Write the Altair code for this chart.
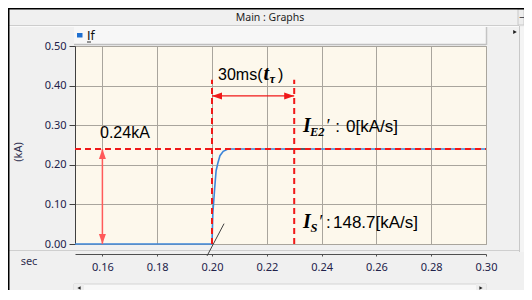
import altair as alt
import pandas as pd

# ---------------- data ----------------
time_s = [0.15, 0.2000, 0.2003, 0.2010, 0.2015, 0.2022, 0.2029, 0.2041, 0.2058, 0.30]
if_ka = [0.0, 0.0, 0.077, 0.143, 0.185, 0.206, 0.223, 0.234, 0.240, 0.240]

x_ticks = [0.16, 0.18, 0.20, 0.22, 0.24, 0.26, 0.28, 0.30]
y_ticks = [0.0, 0.1, 0.2, 0.3, 0.4, 0.5]
x_domain = [0.15, 0.30]
y_domain = [0.0, 0.5]

steady_ka = 0.24      # steady current level
t_fault = 0.20        # start of rise
t_tau = 0.23          # 30 ms later
marker_top = 0.415    # top of the vertical markers
span_arrow_v = 0.374  # level of the 30 ms arrow
level_arrow_t = 0.16  # position of the 0.24 kA arrow

tangent_t = [0.227, 0.236]
pointer_t = [0.1982, 0.2044]
pointer_v = [-0.030, 0.0514]

# annotation texts (anchor = left end, baseline; in data units)
sans_text = ["0.24kA", "30ms(", ")", ":", "0[kA/s]", ":", "148.7[kA/s]"]
sans_t = [0.15912, 0.20219, 0.22410, 0.24500, 0.24891, 0.24161, 0.24416]
sans_v = [0.26768, 0.41414, 0.41414, 0.28283, 0.28283, 0.04040, 0.04040]
sans_size = [16, 16, 16, 17, 17, 17, 17]

serif_text = ["t", "I", "I"]
serif_t = [0.21880, 0.23321, 0.23321]
serif_v = [0.41414, 0.28283, 0.04040]

sub_text = ["τ", "E2", "S"]
sub_t = [0.22100, 0.23577, 0.23595]
sub_v = [0.40657, 0.27273, 0.03030]

prime_text = ["′", "′"]
prime_t = [0.24140, 0.23880]
prime_v = [0.28283, 0.04040]

W, H = 411, 198
OX, OY = 75, 46  # page position of plot origin


def px(x):
    return x - OX


def py(y):
    return y - OY


xs = alt.Scale(domain=x_domain, nice=False, zero=False)
ys = alt.Scale(domain=y_domain, nice=False, zero=False)

one = pd.DataFrame({"k": [0]})

RED = "#F01818"
FONT = "Noto Sans"
SANS = "Liberation Sans, Arial"
SERIF = "Liberation Serif, Times New Roman, DejaVu Serif"

X_AXIS = alt.Axis(values=x_ticks, format=".2f", offset=10, grid=True,
                  gridColor="#A9A59D", gridWidth=1, tickSize=2, labelPadding=5,
                  domainColor="#505050", tickColor="#505050", labelFont=FONT,
                  labelFontSize=11, labelColor="#22224A", labelFlush=False,
                  labelOverlap=False, title=None)
Y_AXIS = alt.Axis(values=y_ticks, format=".2f", grid=True, gridColor="#A9A59D",
                  gridWidth=1, tickSize=6, labelPadding=3, domainColor="#404040",
                  tickColor="#404040", labelFont=FONT, labelFontSize=11,
                  labelColor="#22224A", labelFlush=False, labelOverlap=False, title=None)


def XE(field="t"):
    return alt.X(f"{field}:Q", scale=xs, axis=X_AXIS, title=None)


def YE(field="v"):
    return alt.Y(f"{field}:Q", scale=ys, axis=Y_AXIS, title=None)


def box(x1, x2, y1, y2, fill, stroke=None, sw=0):
    kw = dict(fill=fill)
    if stroke:
        kw.update(stroke=stroke, strokeWidth=sw)
    return alt.Chart(one).mark_rect(**kw).encode(
        x=alt.value(px(x1)), x2=alt.value(px(x2)), y=alt.value(py(y1)), y2=alt.value(py(y2))
    )


def hline(x1, x2, y, color, sw=1):
    return alt.Chart(one).mark_rule(color=color, strokeWidth=sw).encode(
        x=alt.value(px(x1)), x2=alt.value(px(x2)), y=alt.value(py(y))
    )


def vline(x, y1, y2, color, sw=1):
    return alt.Chart(one).mark_rule(color=color, strokeWidth=sw).encode(
        x=alt.value(px(x)), y=alt.value(py(y1)), y2=alt.value(py(y2))
    )


def label(x, y, text, size=11, color="#202020", font=FONT, align="left", baseline="middle", angle=0, weight="normal"):
    kw = dict(text=text, fontSize=size, color=color, font=font, align=align, baseline=baseline, fontWeight=weight)
    if angle:
        kw["angle"] = angle
    return alt.Chart(one).mark_text(**kw).encode(x=alt.value(px(x)), y=alt.value(py(y)))


def tri(x, y, shape, color="#202020", size=30):
    return alt.Chart(one).mark_point(shape=shape, filled=True, color=color, size=size, opacity=1).encode(
        x=alt.value(px(x)), y=alt.value(py(y))
    )


chrome = [
    # title bar
    hline(8, 519, 25.5, "#CDCDCD"),
    hline(8, 519, 26.5, "#FAFAFA"),
    label(270, 17.5, "Main : Graphs", size=10.5, align="center", color="#1E1E1E"),
    box(518, 524, 9, 25, "#EDEDED", "#C8C8C8", 1),
    label(522, 18, "−", size=10, align="center", color="#202020"),
    # legend strip
    box(74, 486, 27, 44.5, "#F7F7F7"),
    hline(74, 486, 44.5, "#BEBEBE", 1.5),
    vline(486.5, 27, 45, "#C4C4C4", 1.5),
    box(77, 82.5, 33, 37.5, "#1E6FD0"),
    label(87, 36, "If", size=12, color="#101010", font="DejaVu Sans"),
    hline(87, 91, 42, "#303030", 1),
    # right scrollbar
    vline(519.5, 26, 252, "#C8C8C8"),
    box(520, 524, 27, 252, "#F4F4F4"),
    tri(515, 32, "triangle-right", size=18),
    # lower divider / scrollbar
    hline(8, 519, 250.5, "#CFCFCF"),
    box(74, 486, 284, 291, "#F8F8F8", "#D4D4D4", 1),
    box(74, 84, 284, 291, "#EDEDED"),
    box(476, 486, 284, 291, "#EDEDED"),
    tri(79, 288, "triangle-left", size=14),
    tri(481, 288, "triangle-right", size=14),
    # window frame
    hline(8, 524, 8.75, "#000000", 1.5),
    vline(8.75, 8, 292, "#000000", 1.5),
    # axis captions
    label(29, 262, "sec", size=11, align="center", color="#303050"),
    label(19, 152, "(kA)", size=11, align="center", color="#303050", angle=270),
]

curve_df = pd.DataFrame({"t": time_s, "v": if_ka})
curve = alt.Chart(curve_df).mark_line(color="#3D85D8", strokeWidth=1.6).encode(x=XE(), y=YE())


def seg_layer(df, color, sw, dash=None):
    kw = dict(color=color, strokeWidth=sw)
    if dash:
        kw["strokeDash"] = dash
    return alt.Chart(df).mark_rule(**kw).encode(x=XE(), x2="t2:Q", y=YE(), y2="v2:Q")


dashed_df = pd.DataFrame({
    "t": [x_domain[0], t_fault, t_tau],
    "t2": [x_domain[1], t_fault, t_tau],
    "v": [steady_ka, 0.0, 0.0],
    "v2": [steady_ka, marker_top, marker_top],
})
tangent_df = pd.DataFrame({"t": [tangent_t[0]], "t2": [tangent_t[1]], "v": [steady_ka], "v2": [steady_ka]})
pointer_df = pd.DataFrame({"t": [pointer_t[0]], "t2": [pointer_t[1]], "v": [pointer_v[0]], "v2": [pointer_v[1]]})
harrow_df = pd.DataFrame({"t": [t_fault], "t2": [t_tau], "v": [span_arrow_v], "v2": [span_arrow_v]})
varrow_df = pd.DataFrame({"t": [level_arrow_t], "t2": [level_arrow_t], "v": [0.0], "v2": [steady_ka]})


def head(t, v, path, color, size):
    df = pd.DataFrame({"t": [t], "v": [v]})
    return alt.Chart(df).mark_point(shape=path, filled=True, color=color, size=size, opacity=1,
                                    strokeWidth=0).encode(x=XE(), y=YE())


LEFT = "M0,0L2,-0.7L2,0.7Z"
RIGHT = "M0,0L-2,-0.7L-2,0.7Z"
UP = "M0,0L-0.7,2L0.7,2Z"
DOWN = "M0,0L-0.7,-2L0.7,-2Z"
PINK = "#FF5A5A"

arrows = [
    seg_layer(harrow_df, RED, 1.3),
    head(t_fault, span_arrow_v, LEFT, RED, 100),
    head(t_tau, span_arrow_v, RIGHT, RED, 100),
    seg_layer(varrow_df, PINK, 1.5),
    head(level_arrow_t, steady_ka, UP, PINK, 100),
    head(level_arrow_t, 0.0, DOWN, PINK, 100),
]


def text_layer(texts, ts, vs, font, size, style="normal", weight="normal"):
    df = pd.DataFrame({"t": ts, "v": vs, "s": texts})
    kw = dict(font=font, fontStyle=style, fontWeight=weight,
              align="left", baseline="alphabetic", color="#000000")
    enc = dict(x=XE(), y=YE(), text="s:N")
    if isinstance(size, list):
        df["fs"] = size
        enc["size"] = alt.Size("fs:Q", scale=None, legend=None)
    else:
        kw["fontSize"] = size
    return alt.Chart(df).mark_text(**kw).encode(**enc)


texts = [
    text_layer(sans_text, sans_t, sans_v, SANS, sans_size),
    text_layer(serif_text, serif_t, serif_v, SERIF, 20, "italic", "bold"),
    text_layer(sub_text, sub_t, sub_v, SERIF, 12.5, "italic", "bold"),
    text_layer(prime_text, prime_t, prime_v, SERIF, 18, "italic"),
]

chart = alt.layer(
    *chrome,
    curve,
    seg_layer(tangent_df, "#4A4A4A", 1.5),
    seg_layer(dashed_df, RED, 2, [6, 4]),
    seg_layer(pointer_df, "#404040", 1),
    *arrows,
    *texts,
).properties(
    width=W, height=H,
    autosize=alt.AutoSizeParams(type="none"),
    padding={"left": 67, "top": 38, "right": 38, "bottom": 46},
).configure(
    background="#F0F0F0",
).configure_view(
    fill="#FDF8EC", stroke="#A8A8A8", strokeWidth=1,
)

chart.save("out.html", embed_options={"renderer": "svg", "actions": False})
